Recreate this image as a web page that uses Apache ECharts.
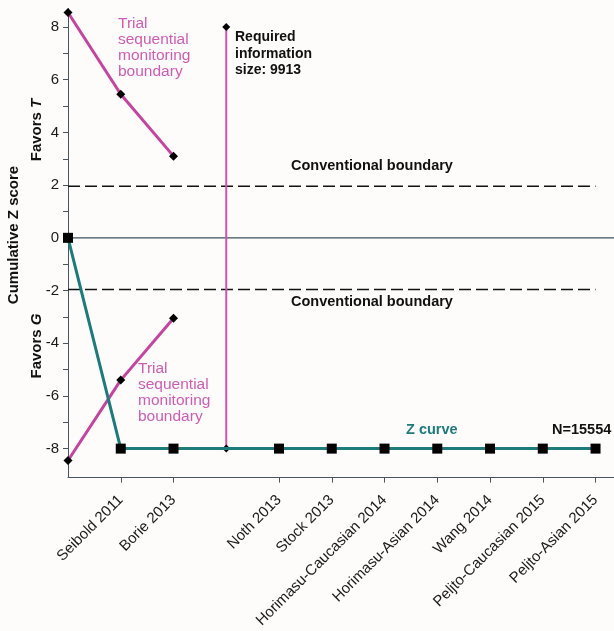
<!DOCTYPE html>
<html><head><meta charset="utf-8">
<script src="https://cdn.jsdelivr.net/npm/echarts@6/dist/echarts.min.js"></script>
<style>html,body{margin:0;padding:0;background:#fdfcfb;}#c{width:614px;height:631px;}</style>
</head><body><div id="c"></div>
<script>
const studies = ['Seibold 2011','Borie 2013','Noth 2013','Stock 2013','Horimasu-Caucasian 2014','Horimasu-Asian 2014','Wang 2014','Peljto-Caucasian 2015','Peljto-Asian 2015'];
const studyPos = [1,2,4,5,6,7,8,9,10];
const zCurveX = [0,1,2,4,5,6,7,8,9,10];
const zCurveY = [0,-8,-8,-8,-8,-8,-8,-8,-8,-8];
const tsmX = [0,1,2];
const tsmUpperY = [8.55,5.45,3.1];
const tsmLowerY = [-8.45,-5.4,-3.05];
const risX = 3;
const risY = [-8,8];
const convBoundary = 1.96;
const convX = [0,10];
const yLabelVals = [-8,-6,-4,-2,0,2,4,6,8];
const yTickVals = [-8,-7,-6,-5,-4,-3,-2,-1,0,1,2,3,4,5,6,7,8];

const FONT = '"Liberation Sans", Arial, sans-serif';
const MAG = '#c4459f';
const TEAL = '#1d7b7c';
const AX = '#4a5560';

const chart = echarts.init(document.getElementById('c'), null, {renderer:'canvas'});
const pair = (xs, ys) => xs.map((x,i)=>[x, ys[i]]);

chart.setOption({
  backgroundColor: '#fdfcfb',
  animation: false,
  grid: {left: 68, right: 0, top: 8.6, bottom: 153.4, containLabel: false},
  xAxis: {
    type: 'value', min: 0, max: 10.35,
    axisLine: {show: true, onZero: false, lineStyle: {color: AX, width: 1}},
    splitLine: {show: false},
    axisTick: {show: true, customValues: studyPos, length: 5, lineStyle: {color: AX}},
    axisLabel: {
      customValues: studyPos, rotate: 45, margin: 20,
      fontFamily: FONT, fontSize: 15, color: '#1a1a1a',
      formatter: v => { const i = studyPos.indexOf(Math.round(v)); return i >= 0 ? studies[i] : ''; }
    }
  },
  yAxis: {
    type: 'value', min: -9.1, max: 8.7,
    axisLine: {show: true, onZero: false, lineStyle: {color: AX, width: 1}},
    splitLine: {show: false},
    axisTick: {show: true, customValues: yTickVals, length: 5, lineStyle: {color: AX}},
    axisLabel: {customValues: yLabelVals, margin: 9, fontFamily: FONT, fontSize: 15, color: '#1a1a1a'}
  },
  series: [
    {type: 'line', data: [[0,0],[10.35,0]], symbol: 'none', lineStyle: {color: '#3d5060', width: 1.2}, z: 1},
    {type: 'line', data: pair(convX, [convBoundary, convBoundary]), symbol: 'none',
     lineStyle: {color: '#111', width: 1.5, type: [12,5]}, z: 1},
    {type: 'line', data: pair(convX, [-convBoundary, -convBoundary]), symbol: 'none',
     lineStyle: {color: '#111', width: 1.5, type: [12,5]}, z: 1},
    {type: 'line', data: pair([risX, risX], risY), symbol: 'diamond', symbolSize: 8,
     itemStyle: {color: '#000'}, lineStyle: {color: '#cc55b0', width: 2}, z: 2},
    {type: 'line', data: pair(tsmX, tsmUpperY), symbol: 'diamond', symbolSize: 9,
     itemStyle: {color: '#000'}, lineStyle: {color: MAG, width: 3}, z: 3},
    {type: 'line', data: pair(tsmX, tsmLowerY), symbol: 'diamond', symbolSize: 9,
     itemStyle: {color: '#000'}, lineStyle: {color: MAG, width: 3}, z: 3},
    {type: 'line', data: pair(zCurveX, zCurveY), symbol: 'rect', symbolSize: 10,
     itemStyle: {color: '#000'}, lineStyle: {color: TEAL, width: 3}, z: 4}
  ],
  graphic: [
    {type: 'text', left: 118, top: 16, style: {text: 'Trial\nsequential\nmonitoring\nboundary', font: '15.5px ' + FONT, fill: '#cf5cb4', lineHeight: 16}},
    {type: 'text', left: 138, top: 361, style: {text: 'Trial\nsequential\nmonitoring\nboundary', font: '15.5px ' + FONT, fill: '#cf5cb4', lineHeight: 16}},
    {type: 'text', left: 235, top: 29, style: {text: 'Required\ninformation\nsize: 9913', font: 'bold 14px ' + FONT, fill: '#111', lineHeight: 16.5}},
    {type: 'text', left: 291, top: 158, style: {text: 'Conventional boundary', font: 'bold 14.5px ' + FONT, fill: '#111'}},
    {type: 'text', left: 291, top: 294, style: {text: 'Conventional boundary', font: 'bold 14.5px ' + FONT, fill: '#111'}},
    {type: 'text', left: 406, top: 422, style: {text: 'Z curve', font: 'bold 14.5px ' + FONT, fill: TEAL}},
    {type: 'text', left: 552, top: 422, style: {text: 'N=15554', font: 'bold 14.5px ' + FONT, fill: '#111'}},
    {type: 'text', x: 14, y: 235, rotation: Math.PI/2, style: {text: 'Cumulative Z score', font: 'bold 15px ' + FONT, fill: '#111', align: 'center', verticalAlign: 'middle'}},
    {type: 'text', x: 37, y: 130, rotation: Math.PI/2, style: {text: '{a|Favors }{b|T}', align: 'center', verticalAlign: 'middle', rich: {a: {font: 'bold 15px ' + FONT, fill: '#111'}, b: {font: 'italic bold 15px ' + FONT, fill: '#111'}}}},
    {type: 'text', x: 37, y: 346, rotation: Math.PI/2, style: {text: '{a|Favors }{b|G}', align: 'center', verticalAlign: 'middle', rich: {a: {font: 'bold 15px ' + FONT, fill: '#111'}, b: {font: 'italic bold 15px ' + FONT, fill: '#111'}}}}
  ]
});
</script></body></html>
